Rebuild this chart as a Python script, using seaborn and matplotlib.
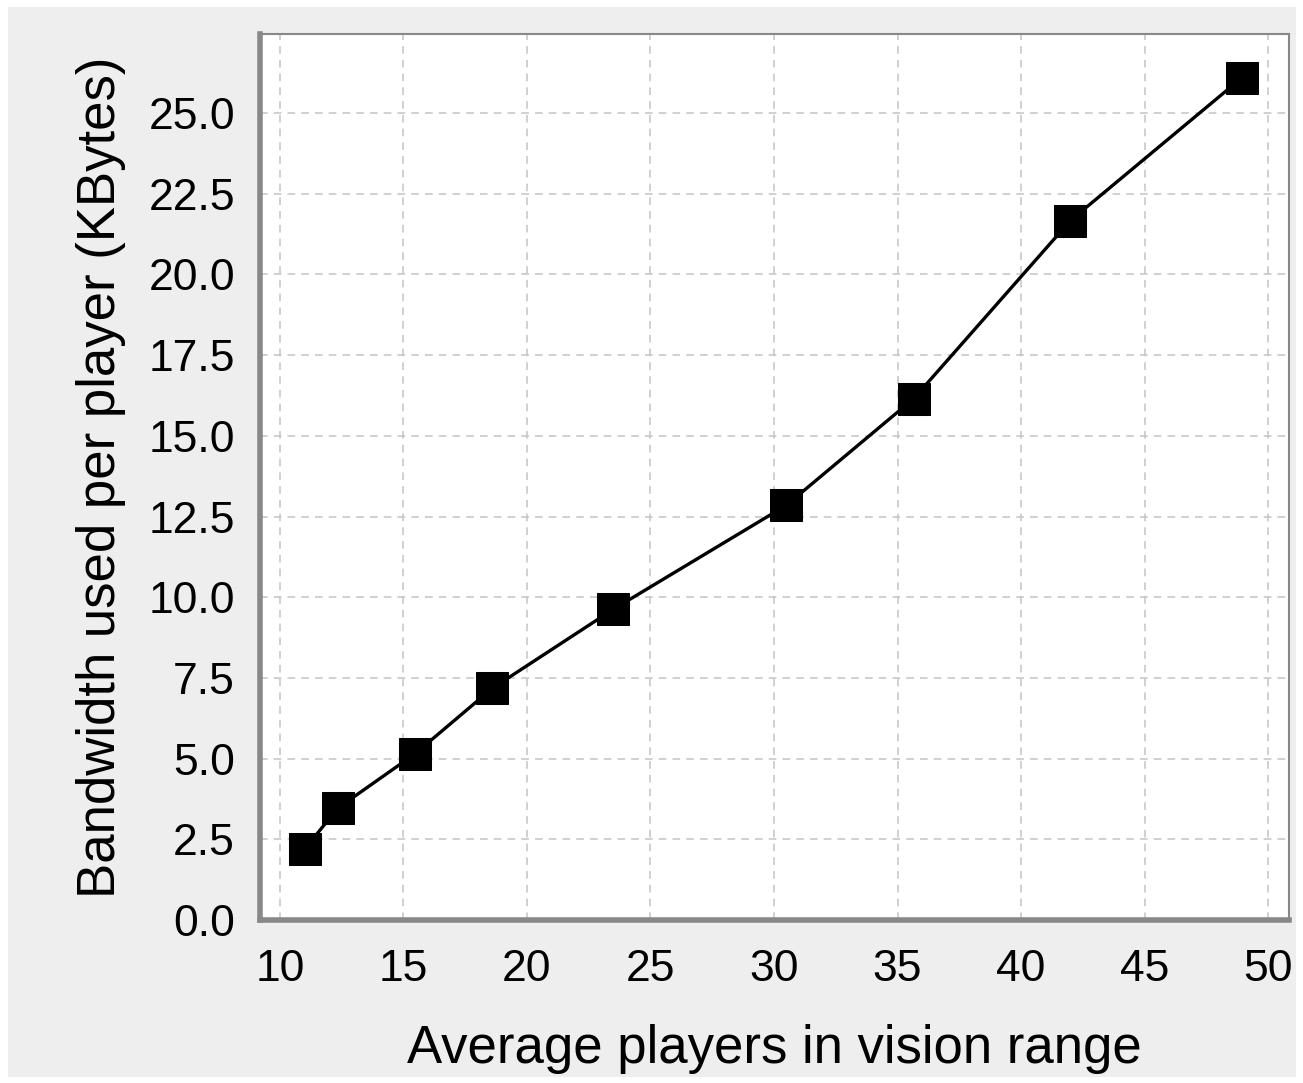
import matplotlib
matplotlib.use("Agg")
import matplotlib.pyplot as plt
from matplotlib.patches import Rectangle
import seaborn as sns
import pandas as pd

# values
players = [11.0, 12.35, 15.45, 18.6, 23.5, 30.5, 35.65, 42.0, 48.95]
bandwidth = [2.2, 3.47, 5.14, 7.18, 9.63, 12.85, 16.15, 21.67, 26.1]
xticks = [10, 15, 20, 25, 30, 35, 40, 45, 50]
yticks = [0.0, 2.5, 5.0, 7.5, 10.0, 12.5, 15.0, 17.5, 20.0, 22.5, 25.0]

sns.set_style("white")
plt.rcParams['font.family'] = ['Liberation Sans', 'DejaVu Sans']

spine_col = "#888888"
grid_col = "#c4c4c4"

fig = plt.figure(figsize=(13.03, 10.83), dpi=100, facecolor="white")
# grey panel behind the chart
fig.patches.append(Rectangle((8/1303, 6/1083), 1288/1303, 1070/1083, transform=fig.transFigure,
                             facecolor="#eeeeee", edgecolor="none", zorder=-10))
ax = fig.add_axes([0.1995, 0.1505, 0.7898, 0.8181])
ax.set_facecolor("white")

df = pd.DataFrame({"players": players, "bandwidth": bandwidth})
sns.lineplot(ax=ax, data=df, x="players", y="bandwidth", color="black", linewidth=2.4,
             marker="s", markersize=23, markeredgecolor="black", markerfacecolor="black", zorder=3)

ax.set_xlim(9.19, 50.85)
ax.set_ylim(0, 27.45)
ax.set_xticks(xticks)
ax.set_yticks(yticks)
ax.set_xticklabels([str(t) for t in xticks])
ax.set_yticklabels(["%.1f" % t for t in yticks])

ax.grid(True, color=grid_col, linestyle=(0, (5, 4)), linewidth=1.1)
ax.set_axisbelow(True)

for side in ["left", "bottom"]:
    ax.spines[side].set_color(spine_col)
    ax.spines[side].set_linewidth(4)
for side in ["top", "right"]:
    ax.spines[side].set_color(spine_col)
    ax.spines[side].set_linewidth(1.5)
    ax.spines[side].set_visible(True)

ax.tick_params(axis="both", direction="out", length=7, width=3.5, color=spine_col,
               labelsize=32, labelcolor="black")
ax.tick_params(axis="x", pad=14)
ax.tick_params(axis="y", pad=11)

ax.set_xlabel("Average players in vision range", fontsize=38, labelpad=24, color="black")
ax.set_ylabel("Bandwidth used per player (KBytes)", fontsize=38, labelpad=16, color="black")

fig.savefig("out.png", dpi=100, facecolor="white")
